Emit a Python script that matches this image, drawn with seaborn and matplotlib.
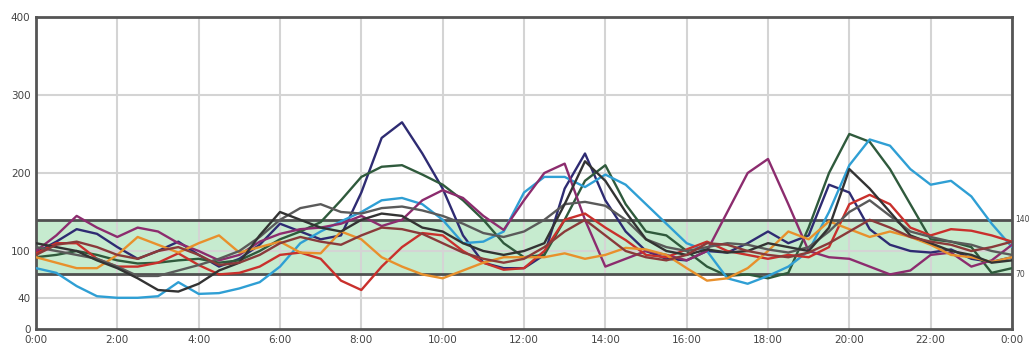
import numpy as np
import pandas as pd
import matplotlib
matplotlib.use("Agg")
import matplotlib.pyplot as plt
import seaborn as sns

# time axis in hours (every 30 minutes)
hours = [i * 0.5 for i in range(49)]

navy = [98, 112, 128, 122, 105, 90, 100, 112, 95, 80, 90, 108, 135, 125, 115, 120,
        175, 245, 265, 225, 180, 120, 85, 78, 78, 95, 180, 225, 165, 125, 100, 90,
        88, 100, 98, 110, 125, 110, 120, 185, 175, 128, 108, 100, 98, 102, 90, 86, 92]
dark_green = [92, 95, 100, 95, 88, 84, 85, 88, 90, 85, 88, 100, 115, 125, 137, 165,
              195, 208, 210, 198, 185, 165, 140, 110, 92, 95, 140, 190, 210, 160, 125, 120,
              100, 80, 68, 70, 65, 72, 130, 200, 250, 240, 205, 160, 115, 112, 105, 72, 78]
light_blue = [78, 72, 55, 42, 40, 40, 42, 60, 45, 46, 52, 60, 80, 110, 125, 138,
              150, 165, 168, 160, 140, 110, 112, 125, 175, 195, 195, 182, 198, 185, 160, 135,
              110, 100, 65, 58, 68, 80, 100, 150, 210, 243, 235, 205, 185, 190, 170, 135, 105]
purple = [100, 120, 145, 130, 118, 130, 125, 110, 100, 88, 95, 112, 122, 128, 130, 135,
          145, 132, 140, 165, 178, 168, 145, 127, 165, 200, 212, 140, 80, 90, 100, 95,
          88, 100, 150, 200, 218, 160, 100, 92, 90, 80, 70, 75, 95, 98, 80, 88, 108]
red = [97, 110, 110, 90, 80, 80, 85, 97, 82, 70, 72, 80, 95, 98, 90, 62,
       50, 80, 105, 123, 120, 100, 85, 76, 78, 100, 140, 148, 130, 114, 95, 92,
       102, 112, 100, 95, 90, 95, 92, 105, 160, 172, 160, 130, 120, 128, 126, 120, 112]
orange = [92, 85, 78, 78, 95, 118, 108, 98, 110, 120, 98, 105, 112, 98, 97, 125,
          115, 92, 80, 70, 65, 75, 85, 92, 92, 92, 97, 90, 95, 104, 102, 95,
          78, 62, 65, 78, 100, 125, 115, 138, 128, 118, 125, 118, 108, 95, 92, 86, 92]
dark_gray = [105, 100, 95, 90, 80, 68, 68, 75, 82, 90, 100, 118, 140, 155, 160, 150,
             148, 155, 157, 152, 145, 135, 123, 118, 125, 140, 160, 163, 158, 140, 115, 105,
             100, 105, 110, 108, 102, 98, 105, 125, 150, 165, 145, 125, 118, 112, 108, 100, 95]
black = [110, 105, 100, 88, 78, 65, 50, 48, 58, 75, 85, 120, 150, 140, 130, 125,
         140, 148, 145, 130, 125, 110, 100, 95, 100, 110, 160, 215, 190, 150, 115, 100,
         95, 102, 98, 100, 110, 105, 100, 130, 205, 180, 150, 120, 110, 100, 95, 85, 88]
brown = [95, 108, 112, 105, 95, 90, 100, 105, 95, 82, 85, 95, 110, 118, 112, 108,
         120, 130, 128, 122, 110, 98, 90, 85, 90, 105, 125, 140, 120, 100, 92, 88,
         95, 110, 108, 100, 95, 92, 98, 110, 125, 140, 130, 118, 112, 108, 100, 105, 112]

series_names = ["navy", "dark_green", "light_blue", "purple", "red", "orange",
                "dark_gray", "black", "brown"]
series_values = [navy, dark_green, light_blue, purple, red, orange, dark_gray, black, brown]
colors = ["#2e2b72", "#2f5a3c", "#2f9fd4", "#8c2c6e", "#c9302c", "#e8902c",
          "#5a5a5a", "#333333", "#8a3a3a"]

y_ticks = [0, 40, 100, 200, 300, 400]
x_ticks = list(range(0, 25, 2))
x_labels = ["0:00", "2:00", "4:00", "6:00", "8:00", "10:00", "12:00", "14:00",
            "16:00", "18:00", "20:00", "22:00", "0:00"]
band_low, band_high = 70, 140

rows = []
for name, vals in zip(series_names, series_values):
    for h, v in zip(hours, vals):
        rows.append({"hour": h, "value": v, "series": name})
df = pd.DataFrame(rows)

sns.set_style("white")
fig = plt.figure(figsize=(10.30, 3.47), dpi=100)
ax = fig.add_axes([36 / 1030, 1 - 329 / 347, (1012 - 36) / 1030, (329 - 17) / 347])

# band
ax.axhspan(band_low, band_high, color="#c6ebcf", zorder=0)
# grid
for xt in x_ticks:
    ax.axvline(xt, color="#d4d4d4", lw=1.5, zorder=1)
for yt in [40, 100, 200, 300]:
    ax.axhline(yt, color="#d4d4d4", lw=1.5, zorder=1)
ax.axhline(band_low, color="#505050", lw=2, zorder=2)
ax.axhline(band_high, color="#505050", lw=2, zorder=2)

sns.lineplot(data=df, x="hour", y="value", hue="series", palette=colors,
             hue_order=series_names, lw=1.7, legend=False, ax=ax, zorder=3)

ax.set_xlim(0, 24)
ax.set_ylim(0, 400)
ax.set_xticks(x_ticks)
ax.set_xticklabels(x_labels)
ax.set_yticks(y_ticks)
ax.set_yticklabels([str(t) for t in y_ticks])
ax.tick_params(axis="both", labelsize=7.5, colors="#444444", length=0, pad=4)
ax.set_xlabel("")
ax.set_ylabel("")
for sp in ax.spines.values():
    sp.set_color("#555555")
    sp.set_linewidth(2)

ax.text(24.08, band_high, str(band_high), fontsize=5.5, color="#444444", va="center", ha="left")
ax.text(24.08, band_low, str(band_low), fontsize=5.5, color="#444444", va="center", ha="left")

fig.savefig("out.png", dpi=100)
